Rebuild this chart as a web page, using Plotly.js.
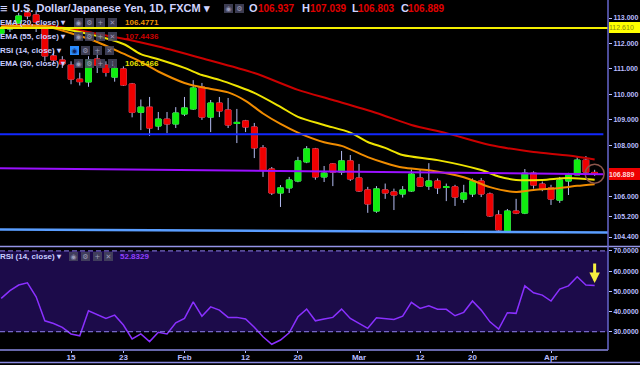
<!DOCTYPE html>
<html><head><meta charset="utf-8">
<script src="https://cdn.plot.ly/plotly-3.0.1.min.js"></script>
<style>html,body{margin:0;padding:0;background:#000;overflow:hidden}#chart{width:640px;height:365px}</style>
</head><body><div id="chart"></div>
<script>
// ---------- data ----------
const dates = ['2018-01-03','2018-01-04','2018-01-05','2018-01-08','2018-01-09','2018-01-10','2018-01-11','2018-01-12','2018-01-15','2018-01-16','2018-01-17','2018-01-18','2018-01-19','2018-01-22','2018-01-23','2018-01-24','2018-01-25','2018-01-26','2018-01-29','2018-01-30','2018-01-31',
'2018-02-01','2018-02-02','2018-02-05','2018-02-06','2018-02-07','2018-02-08','2018-02-09','2018-02-12','2018-02-13','2018-02-14','2018-02-15','2018-02-16','2018-02-19','2018-02-20','2018-02-21','2018-02-22','2018-02-23','2018-02-26','2018-02-27','2018-02-28',
'2018-03-01','2018-03-02','2018-03-05','2018-03-06','2018-03-07','2018-03-08','2018-03-09','2018-03-12','2018-03-13','2018-03-14','2018-03-15','2018-03-16','2018-03-19','2018-03-20','2018-03-21','2018-03-22','2018-03-23','2018-03-26','2018-03-27','2018-03-28','2018-03-29','2018-03-30',
'2018-04-02','2018-04-03','2018-04-04','2018-04-05','2018-04-06','2018-04-09'];
const openP  = [112.40,112.57,112.80,113.20,113.12,112.69,111.51,111.35,111.15,110.60,110.49,111.39,111.15,110.68,111.00,110.41,109.30,109.50,108.76,109.03,108.84,
109.23,109.43,110.29,109.11,109.66,109.39,108.86,108.96,108.72,107.90,107.07,106.13,106.33,106.60,107.35,107.86,106.76,107.27,106.95,107.39,
106.72,106.25,105.42,106.25,106.17,106.09,106.21,106.72,106.40,106.60,106.35,106.37,105.89,106.09,106.60,106.09,105.27,104.60,105.42,105.34,106.91,106.48,
106.33,105.85,106.60,106.84,107.42,106.937];
const highP  = [112.70,112.90,113.20,113.35,113.30,112.80,111.70,111.50,111.30,110.85,111.50,111.63,111.30,111.10,111.10,110.45,109.80,109.90,109.31,109.31,109.50,
109.90,110.56,110.45,109.78,109.90,109.86,109.43,109.00,108.88,108.01,107.15,106.44,106.76,107.55,107.97,107.90,107.19,107.30,107.78,107.62,
107.27,106.37,106.40,106.50,106.30,106.40,107.05,107.07,107.30,106.70,106.50,106.45,106.45,106.70,106.72,106.15,105.45,105.50,105.90,107.07,106.98,106.58,
106.45,106.76,106.92,107.58,107.58,107.039];
const lowP   = [112.30,112.45,112.75,112.95,112.45,111.30,111.20,111.04,110.40,110.35,110.30,110.84,110.70,110.50,110.33,109.10,108.60,108.37,108.60,108.48,108.68,
109.15,109.39,109.00,108.52,109.11,108.68,108.09,108.52,107.50,106.76,106.05,105.58,106.13,106.55,107.30,106.65,106.56,106.40,106.84,106.60,
106.17,105.35,105.35,105.90,105.46,105.95,106.17,106.37,106.25,106.09,105.81,105.62,105.74,105.97,105.97,105.19,104.60,104.56,105.30,105.30,106.30,106.20,
105.66,105.74,106.05,106.84,106.84,106.803];
const closeP = [112.55,112.76,113.08,113.08,112.84,111.51,111.35,111.20,110.60,110.50,111.35,111.15,110.86,111.02,110.37,109.30,109.50,108.68,109.03,108.84,109.27,
109.47,110.25,109.11,109.66,109.35,108.80,108.90,108.72,107.90,107.03,106.13,106.33,106.64,107.39,107.86,106.76,106.91,106.95,107.39,106.68,
106.21,105.70,106.29,106.13,106.05,106.25,106.87,106.40,106.60,106.33,106.37,105.97,106.13,106.60,106.09,105.23,104.68,105.42,105.34,106.91,106.44,106.29,
105.89,106.64,106.84,107.42,106.95,106.889];
const rsi14 = [46.5,50.3,53.1,54.2,47.3,35.4,34.1,32.2,28.9,28.0,40.4,38.7,36.6,38.2,33.3,26.4,28.9,25.1,29.7,28.9,34.4,
36.6,44.8,37.7,42.3,40.7,37.1,37.1,36.3,32.2,27.5,23.8,25.9,29.5,37.4,41.2,35.4,36.3,37.1,41.2,36.6,
34.1,31.7,36.9,36.6,36.1,37.7,44.5,41.5,42.8,41.1,41.1,37.9,39.6,45.2,40.7,34.9,31.3,39.4,39.1,52.7,49.3,48.1,
45.2,51.1,52.7,57.2,53.1,52.8329];

const ema20Dates = ['2018-01-03','2018-01-10','2018-01-15','2018-01-18','2018-01-23','2018-01-25','2018-01-29','2018-02-01','2018-02-05','2018-02-08','2018-02-12','2018-02-14','2018-02-16','2018-02-20','2018-02-23','2018-02-27','2018-03-02','2018-03-06','2018-03-08','2018-03-13','2018-03-19','2018-03-22','2018-03-27','2018-03-29','2018-04-03','2018-04-05','2018-04-09'];
const ema20 = [112.62,112.68,112.40,112.06,111.60,111.28,110.90,110.45,110.28,110.08,109.75,109.25,108.84,108.50,108.12,107.98,107.54,107.31,107.13,107.02,106.75,106.36,106.17,106.25,106.33,106.41,106.4771];
const ema30Dates = ['2018-01-03','2018-01-10','2018-01-16','2018-01-23','2018-01-25','2018-01-29','2018-02-01','2018-02-05','2018-02-07','2018-02-09','2018-02-13','2018-02-16','2018-02-20','2018-02-23','2018-02-28','2018-03-02','2018-03-06','2018-03-08','2018-03-14','2018-03-21','2018-03-23','2018-03-27','2018-03-30','2018-04-04','2018-04-09'];
const ema30 = [112.66,112.68,112.45,111.98,111.58,111.38,111.04,110.76,110.57,110.33,110.06,109.51,109.12,108.80,108.50,108.13,107.90,107.62,107.42,107.03,106.78,106.64,106.64,106.72,106.6466];
const ema55Dates = ['2018-01-03','2018-01-09','2018-01-11','2018-01-15','2018-01-18','2018-01-24','2018-01-29','2018-02-05','2018-02-13','2018-02-20','2018-02-26','2018-03-05','2018-03-09','2018-03-15','2018-03-22','2018-03-29','2018-04-04','2018-04-09'];
const ema55 = [112.72,112.72,112.68,112.58,112.38,112.12,111.88,111.42,110.84,110.18,109.78,109.27,108.80,108.48,108.01,107.74,107.60,107.4436];

const resistanceLevel = 112.61;   // yellow horizontal
const middleLevel = 108.44;       // blue horizontal
const purpleTrend = [107.10, 106.87];
const supportTrend = [104.70, 104.58];

const priceTicks = [113, 112, 111, 110, 109, 108, 106, 105.2, 104.4];
const priceTickText = ['113.000','112.000','111.000','110.000','109.000','108.000','106.000','105.200','104.400'];
const rsiTicks = [70, 60, 50, 40, 30];
const rsiTickText = ['70.0000','60.0000','50.0000','40.0000','30.0000'];
const xTickDates = ['2018-01-15','2018-01-23','2018-02-01','2018-02-12','2018-02-20','2018-03-01','2018-03-12','2018-03-20','2018-04-02'];
const xTickLabels = ['15','23','Feb','12','20','Mar','12','20','Apr'];

// ---------- derived ----------
const idx = dates.map((d, i) => i);
const pos = d => dates.indexOf(d);
const last = dates.length - 1;
const bodyHi = openP.map((o, i) => Math.max(o, closeP[i]));
const bodyLo = openP.map((o, i) => Math.min(o, closeP[i]));

const W = 640, H = 365, ML = 0, MR = 32, MT = 0, MB = 15;
const PW = W - ML - MR, PH = H - MT - MB;
const xRange = [-0.14, 69.53];

const LAV = '#b9bdff', WICK = '#b4bcf2', GREEN = '#10ee10', RED = '#ee0000';
const FONT = 'Liberation Sans, Arial, sans-serif';

const traces = [
  { type: 'candlestick', x: idx, open: openP, high: highP, low: lowP, close: closeP,
    increasing: { line: { color: WICK, width: 1 }, fillcolor: WICK },
    decreasing: { line: { color: WICK, width: 1 }, fillcolor: WICK },
    whiskerwidth: 0, hoverinfo: 'skip', showlegend: false, xaxis: 'x', yaxis: 'y' },
  { type: 'candlestick', x: idx, open: openP, high: bodyHi, low: bodyLo, close: closeP,
    increasing: { line: { color: GREEN, width: 1 }, fillcolor: GREEN },
    decreasing: { line: { color: RED, width: 1 }, fillcolor: RED },
    whiskerwidth: 0, hoverinfo: 'skip', showlegend: false, xaxis: 'x', yaxis: 'y' },
  { type: 'scatter', mode: 'lines', x: ema55Dates.map(pos), y: ema55, line: { color: '#cc0000', width: 2, shape: 'spline', smoothing: 0.8 }, hoverinfo: 'skip', showlegend: false },
  { type: 'scatter', mode: 'lines', x: ema30Dates.map(pos), y: ema30, line: { color: '#eee400', width: 2, shape: 'spline', smoothing: 0.8 }, hoverinfo: 'skip', showlegend: false },
  { type: 'scatter', mode: 'lines', x: ema20Dates.map(pos), y: ema20, line: { color: '#f08c00', width: 2, shape: 'spline', smoothing: 0.8 }, hoverinfo: 'skip', showlegend: false },
  { type: 'scatter', mode: 'markers', x: [last], y: [closeP[last]], marker: { symbol: 'circle-open', size: 19, line: { color: '#b01010', width: 1.5 } }, hoverinfo: 'skip', showlegend: false },
  { type: 'scatter', mode: 'lines', x: idx, y: rsi14, xaxis: 'x', yaxis: 'y2', line: { color: '#8a30ff', width: 1.5 }, hoverinfo: 'skip', showlegend: false }
];

const px = v => (v - ML) / PW;
const py = v => 1 - (v - MT) / PH;

const shapes = [
  { type: 'rect', xref: 'paper', yref: 'y2', x0: 0, x1: 1, y0: 30, y1: 70, fillcolor: '#1c0b4a', line: { width: 0 }, layer: 'below' },
  { type: 'line', xref: 'paper', yref: 'y2', x0: 0, x1: 1, y0: 70, y1: 70, line: { color: '#9080f0', width: 1, dash: '5px,3px' } },
  { type: 'line', xref: 'paper', yref: 'y2', x0: 0, x1: 1, y0: 30, y1: 30, line: { color: '#9080f0', width: 1, dash: '5px,3px' } },
  { type: 'line', xref: 'paper', yref: 'y', x0: 0, x1: 1, y0: resistanceLevel, y1: resistanceLevel, line: { color: '#f2ee00', width: 2 } },
  { type: 'line', xref: 'x', yref: 'y', x0: xRange[0], x1: last + 1, y0: middleLevel, y1: middleLevel, line: { color: '#1228ff', width: 2 } },
  { type: 'line', xref: 'x', yref: 'y', x0: xRange[0], x1: last + 1, y0: purpleTrend[0], y1: purpleTrend[1], line: { color: '#9a10ff', width: 2 } },
  { type: 'line', xref: 'x', yref: 'y', x0: xRange[0], x1: xRange[1], y0: supportTrend[0], y1: supportTrend[1], line: { color: '#5a9eff', width: 2.5 } },
  { type: 'line', xref: 'paper', yref: 'paper', x0: 0, x1: W / PW, y0: py(246.5), y1: py(246.5), line: { color: '#9494e6', width: 1.5 } },
  { type: 'line', xref: 'paper', yref: 'paper', x0: 0, x1: 1, y0: 0, y1: 0, line: { color: '#8a8ae2', width: 1.5 } },
  { type: 'line', xref: 'paper', yref: 'paper', x0: 0, x1: W / PW, y0: py(362.5), y1: py(362.5), line: { color: '#8a8ae2', width: 1.5 } },
  { type: 'line', xref: 'paper', yref: 'paper', x0: 1, x1: 1, y0: 0, y1: 1, line: { color: '#6666cc', width: 1.5 } }
];

function txt(text, x, y, size, color, bold, extra) {
  return Object.assign({ xref: 'paper', yref: 'paper', x: px(x), y: py(y), xanchor: 'left', yanchor: 'middle',
    showarrow: false, borderpad: 0, borderwidth: 0,
    text: bold ? '<b>' + text + '</b>' : text,
    font: { family: FONT, size: size, color: color } }, extra || {});
}
function box(glyph, cx, cy, bg, fg) {
  return { xref: 'paper', yref: 'paper', x: px(cx), y: py(cy), xanchor: 'center', yanchor: 'middle', showarrow: false,
    text: glyph, width: 9, height: 9, bgcolor: bg, borderpad: 0, borderwidth: 0,
    font: { family: 'DejaVu Sans, sans-serif', size: 7, color: fg } };
}
const BOXBG = 'rgba(70,70,95,0.85)', BOXFG = '#9a9ab8';
const annotations = [
  txt('≡', 0, 8, 13, '#d0d4ff', true),
  txt('U.S. Dollar/Japanese Yen, 1D, FXCM ▾', 12, 8, 11, '#d0d4ff', true),
  box('◉', 228, 8, BOXBG, BOXFG), box('⚙', 239, 8, BOXBG, BOXFG),
  txt('O', 249, 8, 11, '#d0d4ff', true), txt(openP[last].toFixed(3), 258, 8, 10, '#e00000', true),
  txt('H', 302, 8, 11, '#d0d4ff', true), txt(highP[last].toFixed(3), 310, 8, 10, '#e00000', true),
  txt('L', 352, 8, 11, '#d0d4ff', true), txt(lowP[last].toFixed(3), 358, 8, 10, '#e00000', true),
  txt('C', 401, 8, 11, '#d0d4ff', true), txt(closeP[last].toFixed(3), 408, 8, 10, '#e00000', true),

  txt('EMA (20, close) ▾', 0, 22.5, 8, '#c8ccff', true),
  box('◉', 78, 22.5, BOXBG, BOXFG), box('⚙', 89, 22.5, BOXBG, BOXFG), box('+', 100.5, 22.5, BOXBG, BOXFG), box('✕', 112.5, 22.5, BOXBG, BOXFG),
  txt(ema20[ema20.length - 1].toFixed(4), 125, 22.5, 8, '#f09000', true),

  txt('EMA (55, close) ▾', 0, 36, 8, '#c8ccff', true),
  box('◉', 78, 36, BOXBG, BOXFG), box('⚙', 89, 36, BOXBG, BOXFG), box('+', 100.5, 36, BOXBG, BOXFG), box('✕', 112.5, 36, BOXBG, BOXFG),
  txt(ema55[ema55.length - 1].toFixed(4), 125, 36, 8, '#cc0000', true),

  txt('RSI (14, close) ▾', 0, 51, 8, '#c8ccff', true),
  box('◉', 74, 51, '#2a8cff', '#10205a'), box('⚙', 85.5, 51, BOXBG, BOXFG), box('+', 97.5, 51, BOXBG, BOXFG), box('✕', 109, 51, BOXBG, BOXFG),

  txt('EMA (30, close) ▾', 0, 64, 8, '#c8ccff', true),
  box('◉', 78, 64, BOXBG, BOXFG), box('⚙', 89, 64, BOXBG, BOXFG), box('+', 100.5, 64, BOXBG, BOXFG), box('⁞', 112.5, 64, BOXBG, BOXFG),
  txt(ema30[ema30.length - 1].toFixed(4), 125, 64, 8, '#e8e000', true),

  txt('RSI (14, close) ▾', 0, 256, 8, '#c8ccff', true),
  box('◉', 73.5, 256, BOXBG, BOXFG), box('⚙', 85.5, 256, BOXBG, BOXFG), box('+', 97.5, 256, BOXBG, BOXFG), box('✕', 108.5, 256, BOXBG, BOXFG),
  txt(rsi14[last].toFixed(4), 120, 256, 8, '#9040ff', true),

  { xref: 'paper', yref: 'y', x: 1, y: resistanceLevel, xanchor: 'left', yanchor: 'middle', xshift: 1, showarrow: false,
    text: resistanceLevel.toFixed(3), bgcolor: '#ffff00', width: 31, height: 11, borderpad: 0, borderwidth: 0, align: 'left',
    font: { family: FONT, size: 7, color: '#8a8a10' } },
  { xref: 'paper', yref: 'y', x: 1, y: closeP[last], xanchor: 'left', yanchor: 'middle', xshift: 1, showarrow: false,
    text: '<b>' + closeP[last].toFixed(3) + '</b>', bgcolor: '#ee0000', width: 31, height: 12, borderpad: 0, borderwidth: 0, align: 'left',
    font: { family: FONT, size: 7, color: '#ffd6d6' } },
  { xref: 'x', yref: 'y2', x: last, y: rsi14[last] + 1.3, ax: 0, ay: -21, showarrow: true, text: '',
    arrowhead: 2, arrowsize: 0.7, arrowwidth: 3, arrowcolor: '#f6f040' }
];

const layout = {
  width: W, height: H, margin: { l: ML, r: MR, t: MT, b: MB, pad: 0 },
  paper_bgcolor: '#000000', plot_bgcolor: '#000000',
  showlegend: false, hovermode: false, boxgap: 0.35, boxgroupgap: 0,
  font: { family: FONT, color: LAV },
  xaxis: { type: 'linear', range: xRange, anchor: 'y2', rangeslider: { visible: false },
    showgrid: false, zeroline: false, showline: false,
    tickvals: xTickDates.map(pos), ticktext: xTickLabels.map(t => '<b>' + t + '</b>'),
    ticks: 'outside', ticklen: 2, tickcolor: LAV, ticklabelstandoff: -3,
    tickfont: { family: FONT, size: 8, color: LAV } },
  yaxis: { domain: [py(246), 1], range: [104.048, 113.707], side: 'right', anchor: 'x',
    showgrid: false, zeroline: false, showline: false,
    tickvals: priceTicks, ticktext: priceTickText.map(t => '<b>' + t + '</b>'),
    ticks: 'outside', ticklen: 3, tickcolor: LAV, tickfont: { family: FONT, size: 7, color: LAV } },
  yaxis2: { domain: [0, py(247.2)], range: [20.96, 71.83], side: 'right', anchor: 'x',
    showgrid: false, zeroline: false, showline: false,
    tickvals: rsiTicks, ticktext: rsiTickText.map(t => '<b>' + t + '</b>'),
    ticks: 'outside', ticklen: 3, tickcolor: LAV, tickfont: { family: FONT, size: 7, color: LAV } },
  shapes: shapes, annotations: annotations
};

Plotly.newPlot('chart', traces, layout, { displayModeBar: false, staticPlot: true });
</script></body></html>
